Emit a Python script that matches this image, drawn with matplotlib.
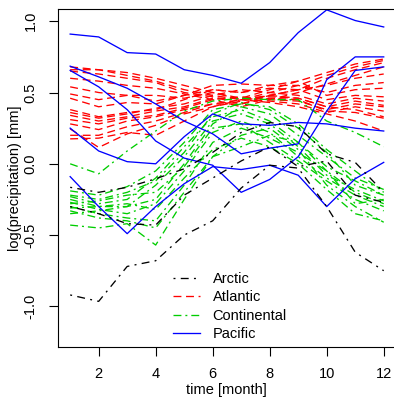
import numpy as np
import matplotlib.pyplot as plt
from matplotlib.lines import Line2D

months = np.arange(1, 13)

# log10 of mean daily precipitation, one row per station
arctic = np.array([
    [-0.92, -0.965, -0.72, -0.68, -0.50, -0.40, -0.17, -0.01, -0.03, -0.30, -0.62, -0.75],
    [-0.165, -0.20, -0.165, -0.105, -0.035, 0.08, 0.22, 0.29, 0.26, 0.07, 0.01, -0.20],
    [-0.30, -0.35, -0.42, -0.43, -0.22, -0.10, 0.02, 0.12, -0.02, 0.02, -0.22, -0.27],
])

atlantic = np.array([
    [0.68, 0.66, 0.64, 0.60, 0.55, 0.50, 0.46, 0.52, 0.58, 0.64, 0.70, 0.735],
    [0.66, 0.66, 0.62, 0.58, 0.52, 0.48, 0.45, 0.50, 0.55, 0.62, 0.68, 0.725],
    [0.65, 0.63, 0.60, 0.57, 0.50, 0.47, 0.42, 0.48, 0.52, 0.60, 0.66, 0.71],
    [0.60, 0.58, 0.55, 0.53, 0.49, 0.45, 0.40, 0.45, 0.50, 0.56, 0.62, 0.68],
    [0.54, 0.50, 0.48, 0.48, 0.46, 0.50, 0.45, 0.48, 0.52, 0.55, 0.60, 0.63],
    [0.49, 0.45, 0.48, 0.44, 0.48, 0.52, 0.50, 0.55, 0.55, 0.50, 0.55, 0.57],
    [0.46, 0.40, 0.43, 0.42, 0.48, 0.55, 0.56, 0.55, 0.58, 0.48, 0.52, 0.53],
    [0.38, 0.33, 0.36, 0.38, 0.45, 0.52, 0.50, 0.53, 0.52, 0.45, 0.48, 0.47],
    [0.36, 0.32, 0.35, 0.39, 0.42, 0.48, 0.52, 0.50, 0.48, 0.42, 0.46, 0.44],
    [0.34, 0.30, 0.33, 0.37, 0.40, 0.46, 0.46, 0.47, 0.46, 0.40, 0.44, 0.41],
    [0.31, 0.28, 0.32, 0.34, 0.39, 0.45, 0.47, 0.45, 0.44, 0.38, 0.42, 0.40],
    [0.28, 0.24, 0.30, 0.33, 0.38, 0.42, 0.45, 0.44, 0.42, 0.36, 0.40, 0.37],
    [0.245, 0.115, 0.21, 0.27, 0.35, 0.40, 0.44, 0.48, 0.46, 0.40, 0.38, 0.33],
    [0.20, 0.20, 0.26, 0.30, 0.36, 0.42, 0.42, 0.46, 0.45, 0.37, 0.36, 0.32],
    [0.175, 0.18, 0.22, 0.20, 0.30, 0.40, 0.45, 0.43, 0.40, 0.35, 0.30, 0.23],
])

continental = np.array([
    [0.0, -0.07, 0.09, 0.23, 0.37, 0.44, 0.46, 0.45, 0.45, 0.30, 0.22, 0.12],
    [-0.43, -0.45, -0.42, -0.57, -0.25, 0.05, 0.20, 0.25, 0.10, -0.15, -0.30, -0.41],
    [-0.19, -0.22, -0.16, -0.05, 0.15, 0.38, 0.42, 0.40, 0.28, 0.10, -0.05, -0.20],
    [-0.23, -0.28, -0.25, -0.10, 0.12, 0.33, 0.38, 0.30, 0.15, -0.02, -0.12, -0.22],
    [-0.25, -0.30, -0.30, -0.15, 0.05, 0.30, 0.35, 0.28, 0.12, -0.08, -0.18, -0.26],
    [-0.27, -0.32, -0.35, -0.28, -0.05, 0.22, 0.30, 0.22, 0.05, -0.10, -0.22, -0.30],
    [-0.28, -0.26, -0.22, -0.20, -0.02, 0.25, 0.28, 0.15, 0.02, -0.12, -0.25, -0.33],
    [-0.30, -0.35, -0.38, -0.40, -0.15, 0.15, 0.25, 0.18, 0.08, -0.05, -0.20, -0.28],
    [-0.31, -0.30, -0.28, -0.32, -0.10, 0.10, 0.18, 0.12, 0.00, -0.18, -0.35, -0.40],
    [-0.33, -0.38, -0.40, -0.45, -0.20, 0.05, 0.12, 0.20, 0.15, -0.05, -0.28, -0.25],
    [-0.35, -0.33, -0.30, -0.25, 0.00, 0.28, 0.40, 0.35, 0.20, 0.05, -0.10, -0.18],
    [-0.22, -0.25, -0.20, -0.12, 0.08, 0.35, 0.43, 0.38, 0.25, 0.08, -0.15, -0.22],
])

pacific = np.array([
    [0.91, 0.89, 0.78, 0.77, 0.66, 0.62, 0.565, 0.71, 0.92, 1.08, 1.005, 0.96],
    [0.685, 0.61, 0.53, 0.42, 0.30, 0.21, 0.07, 0.11, 0.14, 0.59, 0.75, 0.75],
    [0.655, 0.54, 0.38, 0.16, 0.04, -0.01, -0.20, -0.11, 0.05, 0.37, 0.655, 0.68],
    [0.25, 0.09, 0.015, 0.0, 0.19, 0.35, 0.28, 0.27, 0.29, 0.28, 0.25, 0.23],
    [-0.09, -0.30, -0.49, -0.30, -0.14, -0.02, -0.04, -0.01, -0.08, -0.30, -0.105, 0.01],
])

regions = ["Arctic", "Atlantic", "Continental", "Pacific"]
colors = ["black", "#FF0000", "#00CD00", "#0000FF"]
styles = [(0, (1.5, 4, 6, 4)), (0, (6, 3.5)), (0, (6, 3, 1.5, 3)), "-"]
yticks = [-1.0, -0.5, 0.0, 0.5, 1.0]
xticks = [2, 4, 6, 8, 10, 12]

plt.rcParams["font.family"] = ["Liberation Sans", "DejaVu Sans"]
plt.rcParams["font.size"] = 10.5

fig = plt.figure(figsize=(3.94, 3.98), dpi=100)
ax = fig.add_axes([0.1464, 0.1289, 0.8586, 0.8485])

series = dict(zip(regions, [arctic, atlantic, continental, pacific]))
# draw the regions in the order the stations were plotted
for name in ["Atlantic", "Continental", "Pacific", "Arctic"]:
    i = regions.index(name)
    for row in series[name]:
        ax.plot(months, row, color=colors[i], linestyle=styles[i], linewidth=0.95)

ax.set_xlim(0.562, 12.43)
ax.set_ylim(-1.283, 1.086)
ax.set_xticks(xticks)
ax.set_yticks(yticks)
ax.set_yticklabels([f"{v:.1f}" for v in yticks], rotation=90, va="center")
ax.tick_params(length=6.5, width=0.8, pad=8)
for s in ax.spines.values():
    s.set_linewidth(0.8)

ax.set_xlabel("time [month]")
ax.set_ylabel("log(precipitation) [mm]")
ax.xaxis.set_label_coords(0.5, -0.127)
ax.xaxis.label.set_va("center")
ax.yaxis.set_label_coords(-0.126, 0.5)
ax.yaxis.label.set_va("center")

handles = [Line2D([], [], color=c, linestyle=s, linewidth=0.95) for c, s in zip(colors, styles)]
ax.legend(handles, regions, loc="upper left", bbox_to_anchor=(0.341, 0.221),
          frameon=False, borderpad=0, borderaxespad=0, handlelength=1.85,
          handletextpad=0.87, labelspacing=0.3)

fig.savefig("out.png", dpi=100)
